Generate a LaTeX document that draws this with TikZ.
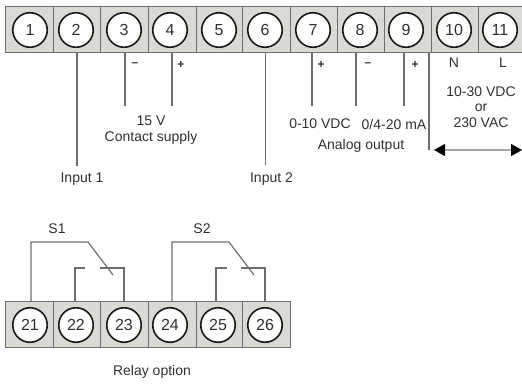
\documentclass[tikz,border=0pt]{standalone}
\usepackage{fontspec}
\setmainfont{Liberation Sans}
\usetikzlibrary{arrows.meta,calc}
\definecolor{stripfill}{HTML}{D9DAD3}
\definecolor{wirecol}{HTML}{6E6E6E}
\definecolor{txt}{HTML}{303030}
\tikzset{
 cellbox/.style={draw=wirecol,line width=1pt,fill=stripfill,minimum height=46pt,inner sep=0pt,outer sep=0pt,anchor=north west},
 term/.style={draw=black!90,line width=1.6pt,fill=white,circle,minimum size=34.5pt,inner sep=0pt,font=\fontsize{16}{17}\selectfont,text=txt},
 wire/.style={draw=wirecol,line width=1.2pt},
 lab/.style={font=\fontsize{14}{15.8}\selectfont,text=txt,inner sep=0pt,align=center},
 sign/.style={font=\fontsize{12}{13}\selectfont\bfseries,text=txt,inner sep=0pt},
}
\begin{document}
\begin{tikzpicture}[x=1pt,y=-1pt]
\useasboundingbox (0,0) rectangle (522,383);
% top strip cells
\foreach \n/\xa/\xb/\cx in {1/5/53/30,2/53/100/76,3/100/148/124,4/148/196/170,5/196/242/219,6/242/290/265,7/290/337/313,8/337/384/360,9/384/431/406,10/431/478/454,11/478/523/500}{
  \pgfmathsetlengthmacro{\cellw}{\xb-\xa}
  \node[cellbox,minimum width=\cellw] (c\n) at (\xa,6) {};
  \node[term] (n\n) at (\cx,30) {\n};
}
% bottom strip cells
\foreach \n/\xa/\xb/\cx in {21/5/53/30,22/53/100/76,23/100/148/124,24/148/196/170,25/196/242/218,26/242/290/265}{
  \pgfmathsetlengthmacro{\cellw}{\xb-\xa}
  \node[cellbox,minimum width=\cellw] (c\n) at (\xa,301) {};
  \node[term] (n\n) at (\cx,325) {\n};
}
% free ends
\coordinate (e2) at (77,166);
\coordinate (e3) at (125,106);
\coordinate (e4) at (172,106);
\coordinate (e6) at (265.5,165);
\coordinate (e7) at (312,106);
\coordinate (e8) at (356,106);
\coordinate (e9) at (404,106);
\coordinate (e10) at (429,150);
\foreach \n in {2,3,4,6,7,8,9,10}{
  \draw[wire] (c\n.south -| e\n) -- (e\n);
}
% mains arrow
\coordinate (al) at (434,150);
\coordinate (ar) at (522,150);
\draw[draw=black!35,line width=1.2pt,{Triangle[length=11pt,width=12pt,color=black]}-{Triangle[length=11pt,width=12pt,color=black]}] (al) -- (ar);
% relay S1
\coordinate (s1a) at (31,242);
\coordinate (s1b) at (88,242);
\coordinate (s1c) at (113,275);
\coordinate (s1d) at (75,268);
\coordinate (s1e) at (85,268);
\coordinate (s1f) at (124,268);
\coordinate (s1g) at (100,268);
\draw[wire] (c21.north -| s1a) -- (s1a) -- (s1b) -- (s1c);
\draw[wire] (c22.north -| s1d) -- (s1d) -- (s1e);
\draw[wire] (c23.north -| s1f) -- (s1f) -- (s1g);
% relay S2
\coordinate (s2a) at (172,242);
\coordinate (s2b) at (229,242);
\coordinate (s2c) at (254,275);
\coordinate (s2d) at (216,268);
\coordinate (s2e) at (227,268);
\coordinate (s2f) at (265,268);
\coordinate (s2g) at (241,268);
\draw[wire] (c24.north -| s2a) -- (s2a) -- (s2b) -- (s2c);
\draw[wire] (c25.north -| s2d) -- (s2d) -- (s2e);
\draw[wire] (c26.north -| s2f) -- (s2f) -- (s2g);
% labels
\node[sign] (m3) at (135,65) {–};
\node[sign] (p4) at (181,65) {+};
\node[sign] (p7) at (321,65) {+};
\node[sign] (m8) at (368,65) {–};
\node[sign] (p9) at (415,65) {+};
\node[lab] (ln) at (454,63) {N};
\node[lab] (ll) at (503,63) {L};
\node[lab] (l15) at (151,130.5) {15 V\\Contact supply};
\node[lab] (li1) at (82,179) {Input 1};
\node[lab] (li2) at (271.5,179) {Input 2};
\node[lab] (l010) at (320,124) {0-10 VDC};
\node[lab] (l020) at (394,124) {0/4-20 mA};
\node[lab] (lao) at (361,146) {Analog output};
\node[lab] (lsup) at (481,107) {10-30 VDC\\or\\230 VAC};
\node[lab] (ls1) at (57,229) {S1};
\node[lab] (ls2) at (202,229) {S2};
\node[lab] (lrel) at (152,372) {Relay option};
\end{tikzpicture}
\end{document}
